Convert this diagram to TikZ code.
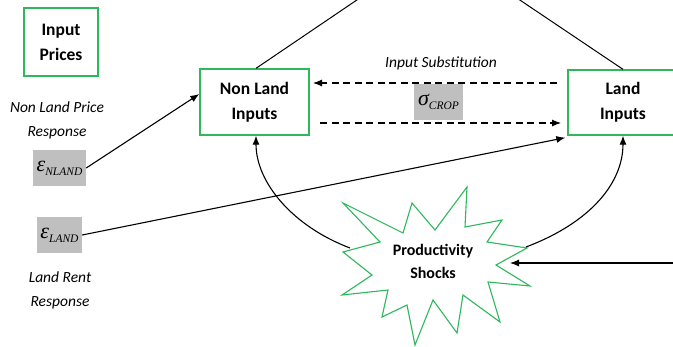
\documentclass[tikz,border=0pt]{standalone}
\usepackage{fontspec}
\setmainfont{Carlito}
\newfontfamily\tnr{Liberation Serif}
\usetikzlibrary{arrows.meta,calc}
\definecolor{boxgreen}{RGB}{46,184,92}
\definecolor{shade}{RGB}{191,191,191}
\tikzset{
  greenbox/.style={draw=boxgreen,line width=1.3pt,fill=white,align=center,inner sep=0pt,
    font=\fontsize{17.5}{25}\selectfont\bfseries},
  graybox/.style={fill=shade,inner sep=0pt},
  lbl/.style={align=center,font=\fontsize{15.5}{24}\selectfont\itshape},
  conn/.style={line width=1.1pt,-{Latex[length=9pt,width=7pt]}},
  plain/.style={line width=1pt},
  dashconn/.style={line width=1.1pt,dash pattern=on 7pt off 4.5pt,-{Latex[length=9pt,width=7pt]}},
}
\newcommand{\gsym}[2]{{\tnr\fontsize{22}{22}\selectfont\itshape #1\raisebox{-4pt}{\fontsize{11.5}{11.5}\selectfont #2}}}
\begin{document}
\begin{tikzpicture}[x=1pt,y=-1pt]
\useasboundingbox (0,0) rectangle (673,346);
\clip (0,0) rectangle (673,346);
\fill[white] (0,0) rectangle (673,346);

% boxes
\node[greenbox,minimum width=74pt,minimum height=68pt] (inprice) at (61,42) {Input\\Prices};
\node[greenbox,minimum width=109pt,minimum height=66pt] (nlbox) at (254.5,102) {Non Land\\Inputs};
\node[greenbox,minimum width=110pt,minimum height=65pt] (lbox) at (623,102.5) {Land\\Inputs};

% gray symbol boxes
\node[graybox,minimum width=53pt,minimum height=36pt] (enl) at (59.5,168) {\gsym{ε}{NLAND}};
\node[graybox,minimum width=45pt,minimum height=36pt] (el) at (59.5,235) {\gsym{ε}{LAND}};
\node[graybox,minimum width=49pt,minimum height=36pt] (sig) at (438.5,102) {\gsym{σ}{CROP}};

% labels
\node[lbl] (lnl) at (57,120) {Non Land Price\\Response};
\node[lbl] (ll) at (60,290) {Land Rent\\Response};
\node[lbl] (lsub) at (441,63) {Input Substitution};

% star
\draw[draw=boxgreen,line width=1.1pt,fill=white]
 (467,187) -- (465,227) -- (502,220) -- (487,242) -- (527,248) -- (496,265) --
 (530,286) -- (488,282) -- (500,322) -- (463,295) -- (457,333) -- (433,300) --
 (415,345) -- (407,305) -- (382,317) -- (388,290) -- (342,295) -- (372,275) --
 (343,252) -- (380,242) -- (343,203) -- (403,233) -- (412,203) -- (435,230) -- cycle;
\node[align=center,font=\fontsize{16}{23}\selectfont\bfseries] (star) at (433,261) {Productivity\\Shocks};
\coordinate (starL) at (350,248);
\coordinate (starR) at (526,247);
\coordinate (starE) at (510,263);

% apex lines
\coordinate (apex) at (438,-55);
\draw[plain] ([xshift=1.5pt]nlbox.north) -- (apex);
\draw[plain] (lbox.north) -- (apex);

% substitution arrows
\coordinate (d1s) at (557,83);
\coordinate (d1e) at (313,83);
\coordinate (d2s) at (320,123);
\coordinate (d2e) at (561,123);
\draw[dashconn] (d1s) -- (d1e);
\draw[dashconn] (d2s) -- (d2e);

% response arrows
\draw[conn] (enl.east) -- ([yshift=8pt]nlbox.west);
\draw[conn] (el.east) -- ([xshift=-2pt,yshift=-2pt]lbox.south west);

% shock arrows
\draw[conn] (starL) .. controls (292,226) and (256,182) .. ([xshift=1.5pt]nlbox.south);
\draw[conn] (starR) .. controls (592,222) and (623,182) .. (lbox.south);
\coordinate (rin) at (690,263);
\draw[conn] (rin) -- (starE);
\end{tikzpicture}
\end{document}
